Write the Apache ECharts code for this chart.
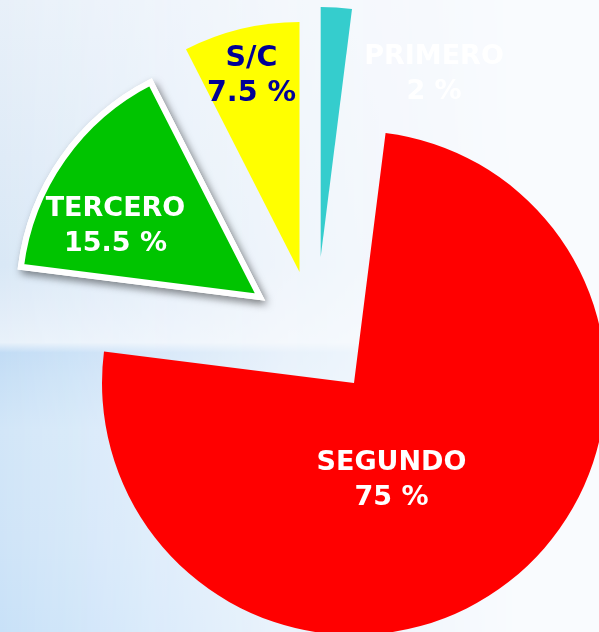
<!DOCTYPE html>
<html>
<head>
<meta charset="utf-8">
<script src="https://cdn.jsdelivr.net/npm/echarts@6/dist/echarts.min.js"></script>
<style>
  html, body { margin: 0; padding: 0; width: 599px; height: 632px; overflow: hidden; }
  body { background: #f9fbfe; position: relative; }
  #left {
    position: absolute; left: 0; top: 0; width: 520px; height: 632px;
    background: linear-gradient(to bottom,
      #e8f0f9 0%, #dfebf7 25%, #d9e8f6 42%, #e4eef9 51%, #e8f1fa 54.2%,
      #c2dcf5 55.8%, #c8e0f6 60%, #d2e6f8 68%, #cfe4f8 85%, #c8e1f8 100%);
    -webkit-mask-image: linear-gradient(to right, #000 0%, rgba(0,0,0,0.85) 12%, rgba(0,0,0,0.6) 30%, rgba(0,0,0,0.3) 55%, rgba(0,0,0,0) 100%);
    mask-image: linear-gradient(to right, #000 0%, rgba(0,0,0,0.85) 12%, rgba(0,0,0,0.6) 30%, rgba(0,0,0,0.3) 55%, rgba(0,0,0,0) 100%);
  }
  #main { position: absolute; left: 0; top: 0; width: 599px; height: 632px; }
</style>
</head>
<body>
<div id="left"></div>
<div id="main"></div>
<script>
// ---- data ----
const categories = ['PRIMERO', 'SEGUNDO', 'TERCERO', 'S/C'];
const values = [2, 75, 15.5, 7.5];

// ---- styling / layout (kept separate from data) ----
const sliceColors = ['#35cdcd', '#ff0000', '#00c400', '#ffff00'];
const labelColors = ['#ffffff', '#ffffff', '#ffffff', '#000096'];
const labelSizes = [27, 27, 27, 28.5];
const sliceCenters = [[320.7, 257], [354, 383], [260, 297], [299.5, 272]];
const sliceRadii = [250, 252, 241, 250];
const sliceBorders = [0, 0, 6, 0];
const sliceShadow = [false, false, true, false];
const labelPos = [[434, 74], [391.5, 480.5], [115.5, 226], [251.5, 76.5]];

const chart = echarts.init(document.getElementById('main'), null, { renderer: 'canvas' });

function baseSeries(k) {
  return {
    type: 'pie',
    center: sliceCenters[k],
    radius: [0, sliceRadii[k]],
    startAngle: 90,
    clockwise: true,
    avoidLabelOverlap: false,
    silent: true,
    animation: false,
    emphasis: { disabled: true },
    labelLine: { show: false }
  };
}

const series = [];

// shadow layers (drawn underneath)
categories.forEach(function (name, k) {
  if (!sliceShadow[k]) return;
  const s = baseSeries(k);
  s.name = name + '-shadow';
  s.z = 1;
  s.label = { show: false };
  s.data = categories.map(function (c, i) {
    return {
      name: c,
      value: values[i],
      itemStyle: i === k ? {
        color: '#ffffff',
        borderColor: '#ffffff',
        borderWidth: sliceBorders[k],
        borderJoin: 'miter',
        shadowBlur: 8,
        shadowOffsetX: 3,
        shadowOffsetY: 4,
        shadowColor: 'rgba(0,0,0,0.4)'
      } : { color: 'transparent', borderWidth: 0 },
      label: { show: false }
    };
  });
  series.push(s);
});

// visible slices
categories.forEach(function (name, k) {
  const s = baseSeries(k);
  s.name = name;
  s.z = 2;
  s.labelLayout = function () {
    return { x: labelPos[k][0], y: labelPos[k][1], align: 'center', verticalAlign: 'middle' };
  };
  s.data = categories.map(function (c, i) {
    const visible = i === k;
    return {
      name: c,
      value: values[i],
      itemStyle: visible ? {
        color: sliceColors[i],
        borderColor: '#ffffff',
        borderWidth: sliceBorders[i],
        borderJoin: 'miter'
      } : { color: 'transparent', borderWidth: 0 },
      label: visible ? {
        show: true,
        position: 'inside',
        formatter: '{b}\n{c} %',
        color: labelColors[i],
        fontFamily: 'DejaVu Sans',
        fontWeight: 'bold',
        fontSize: labelSizes[i],
        lineHeight: 35,
        align: 'center',
        verticalAlign: 'middle'
      } : { show: false }
    };
  });
  series.push(s);
});

chart.setOption({
  backgroundColor: 'transparent',
  animation: false,
  series: series
});
</script>
</body>
</html>
